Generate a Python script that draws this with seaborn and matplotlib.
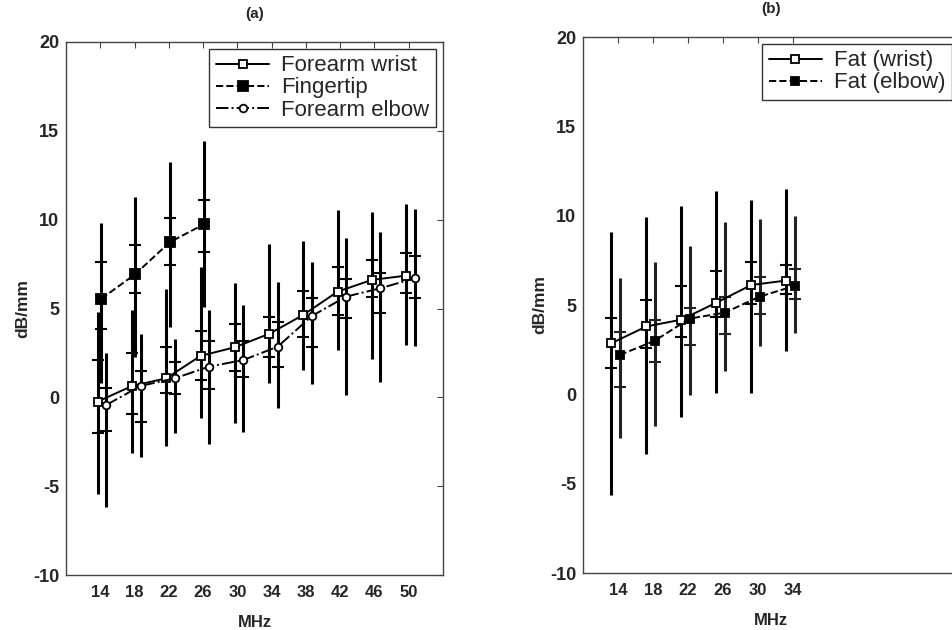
"""
Attenuation vs frequency for skin sites (a) and fat layer (b).
Markers = mean, short ticks = mean +/- SD, long bars = min..max.
"""

import numpy as np
import pandas as pd
import matplotlib
matplotlib.use("Agg")
import matplotlib.pyplot as plt
import seaborn as sns

# ---- Panel (a): skin sites ----
FREQ_A = [14, 18, 22, 26, 30, 34, 38, 42, 46, 50]

WRIST_MEAN = [-0.24, 0.64, 1.07, 2.33, 2.82, 3.57, 4.64, 5.95, 6.61, 6.85]
WRIST_SD_HI = [2.10, 2.48, 2.85, 3.74, 4.11, 4.51, 5.99, 7.32, 7.73, 8.14]
WRIST_SD_LO = [-2.02, -0.95, 0.23, 0.98, 1.50, 2.29, 3.42, 4.64, 5.67, 5.89]
WRIST_MAX = [4.82, 4.92, 6.08, 7.36, 6.46, 8.63, 8.82, 10.55, 10.45, 10.88]
WRIST_MIN = [-5.45, -3.15, -2.74, -1.18, -1.46, 0.79, 1.54, 2.67, 2.14, 2.95]

FREQ_TIP = [14, 18, 22, 26]
TIP_MEAN = [5.54, 6.94, 8.73, 9.74]
TIP_SD_HI = [7.60, 8.58, 10.11, 11.10]
TIP_SD_LO = [3.85, 5.89, 7.45, 8.17]
TIP_MAX = [9.83, 11.26, 13.23, 14.45]
TIP_MIN = [0.79, 2.29, 3.94, 5.07]

ELBOW_MEAN = [-0.43, 0.64, 1.07, 1.73, 2.10, 2.85, 4.58, 5.67, 6.14, 6.70]
ELBOW_SD_HI = [0.51, 1.50, 2.00, 3.17, 3.19, 4.26, 5.58, 6.66, 7.02, 7.96]
ELBOW_SD_LO = [-1.87, -1.37, 0.17, 0.47, 1.17, 1.73, 2.85, 4.45, 4.73, 5.61]
ELBOW_MAX = [2.48, 3.57, 3.27, 4.92, 5.20, 6.51, 7.60, 8.95, 9.30, 10.59]
ELBOW_MIN = [-6.20, -3.34, -2.02, -2.62, -1.95, -0.58, 0.75, 0.13, 0.88, 2.89]

# ---- Panel (b): fat ----
FREQ_B = [14, 18, 22, 26, 30, 34]

FAT_W_MEAN = [2.86, 3.80, 4.18, 5.13, 6.12, 6.37]
FAT_W_SD_HI = [4.26, 5.26, 6.07, 6.93, 7.43, 7.24]
FAT_W_SD_LO = [1.49, 2.60, 3.21, 4.35, 5.06, 5.62]
FAT_W_MAX = [9.11, 9.92, 10.55, 11.40, 10.89, 11.48]
FAT_W_MIN = [-5.64, -3.35, -1.28, 0.06, 0.10, 2.44]

FAT_E_MEAN = [2.20, 3.00, 4.24, 4.57, 5.47, 6.07]
FAT_E_SD_HI = [3.51, 4.17, 4.86, 5.47, 6.55, 7.00]
FAT_E_SD_LO = [0.39, 1.83, 2.78, 3.38, 4.50, 5.32]
FAT_E_MAX = [6.50, 7.43, 8.31, 9.67, 9.80, 10.00]
FAT_E_MIN = [-2.46, -1.80, -0.06, 1.32, 2.71, 3.42]

Y_TICKS = [-10, -5, 0, 5, 10, 15, 20]

W, H = 953, 630


def draw_series(ax, freqs, mean, sd_lo, sd_hi, vmin, vmax, shift, label,
                ls, marker, mfc, ms=5.5, bar_color="black"):
    """Min-max bar, SD ticks, then the mean line through seaborn"""
    x = np.array(freqs, dtype=float) + shift
    ax.vlines(x, vmin, vmax, color=bar_color, lw=2.2, zorder=2)
    for ends in (sd_lo, sd_hi):
        ax.plot(x, ends, ls="none", marker="_", ms=8, mew=1.5,
                color=bar_color, zorder=2)
    df = pd.DataFrame({"MHz": x, "dB/mm": mean})
    sns.lineplot(data=df, x="MHz", y="dB/mm", ax=ax, color="black",
                 lw=1.4, linestyle=ls, marker=marker, markersize=ms,
                 markerfacecolor=mfc, markeredgecolor="black",
                 markeredgewidth=1.3, label=label, zorder=3)


def style_axes(ax, xticks, xlim, title):
    ax.set_xlim(*xlim)
    ax.set_ylim(-10, 20)
    ax.set_xticks(xticks)
    ax.set_yticks(Y_TICKS)
    ax.tick_params(direction="in", top=True, right=True, length=4,
                   width=0.8, color="#444444")
    ax.tick_params(axis="x", labelsize=12, pad=7)
    ax.tick_params(axis="y", labelsize=13, pad=5)
    for s in ax.spines.values():
        s.set_color("#444444")
        s.set_linewidth(1.0)
    ax.set_xlabel("MHz", fontsize=12, fontweight="bold", labelpad=11)
    ax.set_ylabel("dB/mm", fontsize=12.5, fontweight="bold", labelpad=2)
    ax.set_title(title, fontsize=11, fontweight="bold", pad=17)
    ax.grid(False)


def legend(ax, fontsize):
    leg = ax.legend(loc="upper right", fancybox=False, frameon=True,
                    edgecolor="#333333", framealpha=1,
                    prop={"weight": "normal", "size": fontsize},
                    handlelength=2.4, borderaxespad=0.3,
                    labelspacing=0.05, handletextpad=0.55, borderpad=0.3)
    leg.get_frame().set_linewidth(1.0)


def main():
    sns.set_theme(style="white")
    plt.rcParams["font.family"] = ["Liberation Sans", "DejaVu Sans"]
    plt.rcParams["font.weight"] = "bold"
    plt.rcParams["axes.unicode_minus"] = False

    fig = plt.figure(figsize=(W / 100, H / 100), dpi=100)
    fig.patch.set_facecolor("white")

    # (a) skin sites
    ax_a = fig.add_axes([66 / W, 1 - 575 / H, 377 / W, 533 / H])
    draw_series(ax_a, FREQ_A, WRIST_MEAN, WRIST_SD_LO, WRIST_SD_HI,
                WRIST_MIN, WRIST_MAX, -0.3, "Forearm wrist", "-", "s", "white")
    draw_series(ax_a, FREQ_TIP, TIP_MEAN, TIP_SD_LO, TIP_SD_HI,
                TIP_MIN, TIP_MAX, 0.1, "Fingertip", "--", "s", "black", ms=6.5)
    draw_series(ax_a, FREQ_A, ELBOW_MEAN, ELBOW_SD_LO, ELBOW_SD_HI,
                ELBOW_MIN, ELBOW_MAX, 0.7, "Forearm elbow", "-.", "o", "white")
    style_axes(ax_a, FREQ_A, (10, 54), "(a)")
    legend(ax_a, 16)

    # (b) fat layer, axes runs past the right edge of the page
    ax_b = fig.add_axes([583 / W, 1 - 573 / H, 376 / W, 536 / H])
    draw_series(ax_b, FREQ_B, FAT_W_MEAN, FAT_W_SD_LO, FAT_W_SD_HI,
                FAT_W_MIN, FAT_W_MAX, -0.75, "Fat (wrist)", "-", "s", "white")
    draw_series(ax_b, FREQ_B, FAT_E_MEAN, FAT_E_SD_LO, FAT_E_SD_HI,
                FAT_E_MIN, FAT_E_MAX, 0.2, "Fat (elbow)", "--", "s", "black",
                bar_color="#222222")
    style_axes(ax_b, FREQ_B, (10, 53), "(b)")
    legend(ax_b, 16)

    fig.savefig("out.png", dpi=100, facecolor="white")
    plt.close(fig)


if __name__ == "__main__":
    main()
